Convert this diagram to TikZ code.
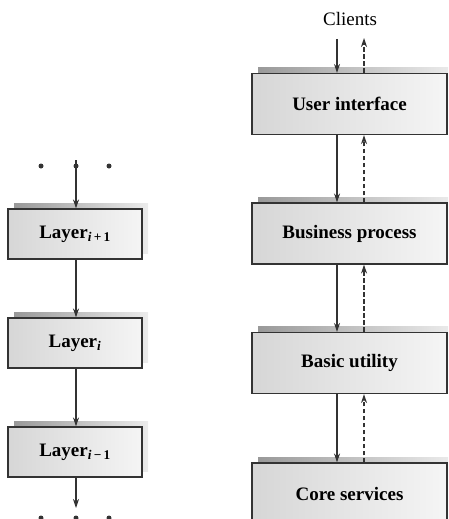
\documentclass[tikz,border=0pt]{standalone}
\usepackage{fontspec}
\setmainfont{Liberation Serif}
\usetikzlibrary{shadows,arrows.meta}
\definecolor{ln}{HTML}{333333}
\tikzset{
  box/.style={draw=ln, line width=1.1pt, left color=gray!32, right color=gray!8,
    font=\bfseries\fontsize{19}{22}\selectfont, inner sep=0pt,
    general shadow={shadow xshift=6pt, shadow yshift=6pt, left color=gray!80, right color=gray!15, draw=none}},
  lbox/.style={box, minimum width=134pt, minimum height=50pt},
  rbox/.style={box, minimum width=195pt, minimum height=61pt},
  arr/.style={draw=ln, line width=1.1pt, -{Stealth[length=9pt,width=6pt]}},
  darr/.style={arr, dash pattern=on 4.5pt off 2.5pt},
  dot/.style={circle, fill=ln, inner sep=0pt, minimum size=5pt}
}
\begin{document}
\begin{tikzpicture}[x=1pt,y=-1pt]
\path[use as bounding box, clip] (0,0) rectangle (448,519);
% left column
\node[dot] (d1) at (41,166) {};
\node[dot] (d2) at (76,166) {};
\node[dot] (d3) at (109,166) {};
\node[lbox] (l1) at (75,234) {Layer\textsubscript{\textit{i}\,+\,1}};
\node[lbox] (l2) at (75,343) {Layer\textsubscript{\textit{i}}};
\node[lbox] (l3) at (75,452) {Layer\textsubscript{\textit{i}\,−\,1}};
\node[dot] (e1) at (41,518) {};
\node[dot] (e2) at (76,518) {};
\node[dot] (e3) at (109,518) {};
\coordinate (bend) at (76,508);
\draw[arr] ([yshift=6pt]d2.center) -- (d2 |- l1.north);
\draw[arr] (d2 |- l1.south) -- (d2 |- l2.north);
\draw[arr] (d2 |- l2.south) -- (d2 |- l3.north);
\draw[arr] (d2 |- l3.south) -- (bend);
% right column
\node[font=\fontsize{19}{22}\selectfont] (cl) at (350,19) {Clients};
\node[rbox] (ui) at (349.5,104) {User interface};
\node[rbox] (bp) at (349.5,233.5) {Business process};
\node[rbox] (bu) at (349.5,363) {Basic utility};
\node[rbox, minimum height=62pt] (cs) at (349.5,494) {Core services};
\coordinate (cdn) at (337,39);
\coordinate (cup) at (364,38);
\draw[arr] (cdn) -- (cdn |- ui.north);
\draw[darr] (cup |- ui.north) -- (cup);
\draw[arr] (cdn |- ui.south) -- (cdn |- bp.north);
\draw[darr] (cup |- bp.north) -- (cup |- ui.south);
\draw[arr] (cdn |- bp.south) -- (cdn |- bu.north);
\draw[darr] (cup |- bu.north) -- (cup |- bp.south);
\draw[arr] (cdn |- bu.south) -- (cdn |- cs.north);
\draw[darr] (cup |- cs.north) -- (cup |- bu.south);
\end{tikzpicture}
\end{document}
